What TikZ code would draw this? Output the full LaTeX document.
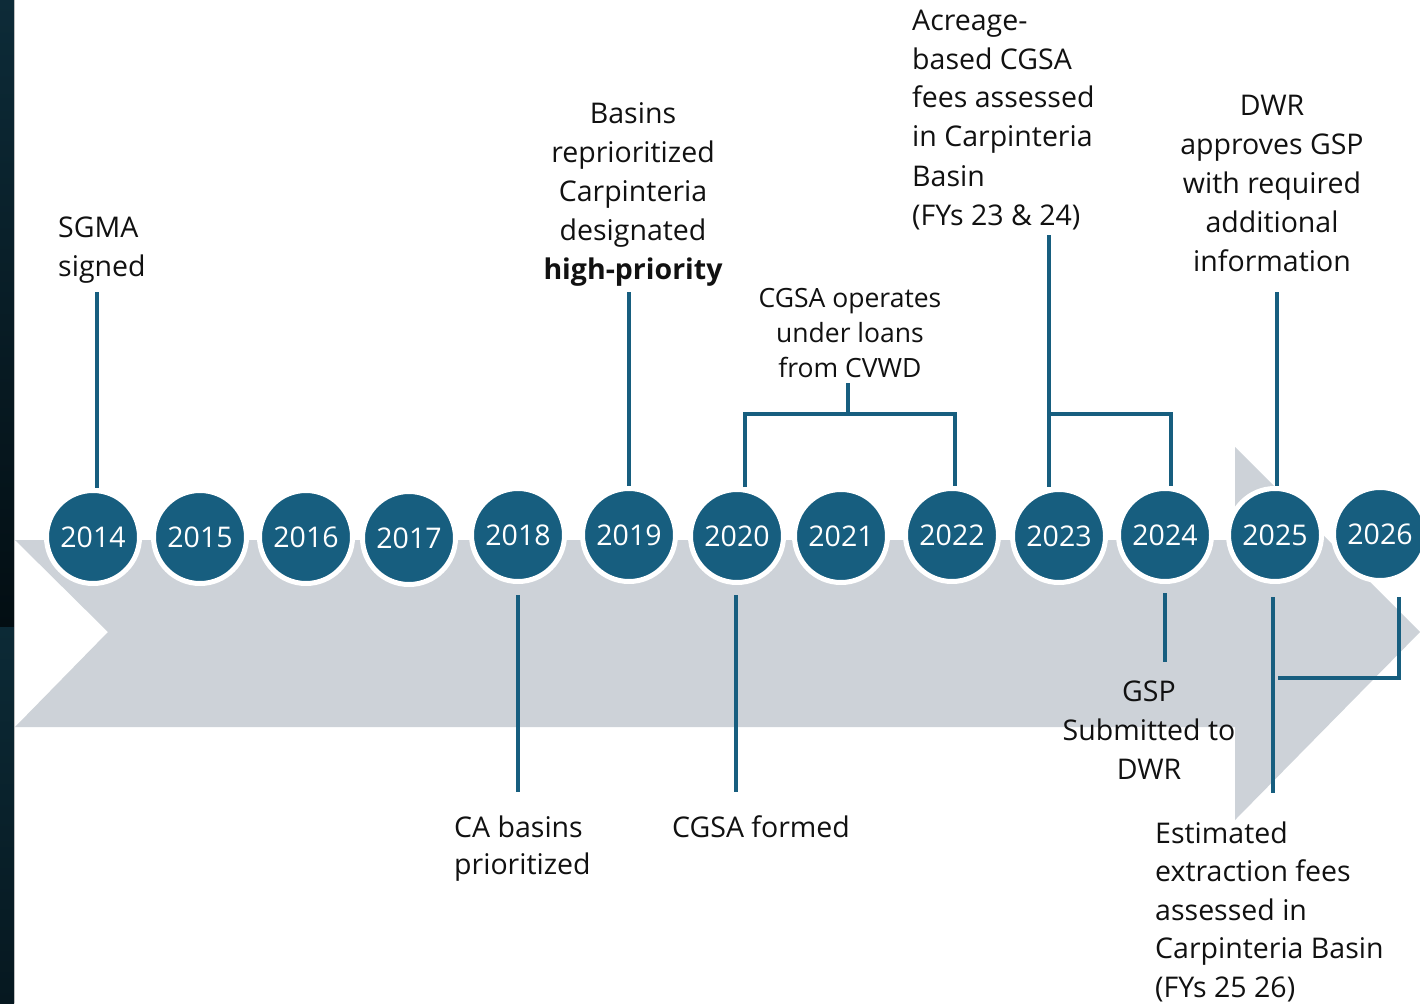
\documentclass[tikz,border=0pt]{standalone}
\usepackage{fontspec}
\setmainfont{Open Sans}
\definecolor{teal1}{HTML}{175E7F}
\definecolor{arrowgray}{HTML}{CDD2D8}
\definecolor{stripA}{HTML}{0D2B38}
\definecolor{stripB}{HTML}{030E13}
\definecolor{stripC}{HTML}{0C2A36}
\definecolor{stripD}{HTML}{061820}
\definecolor{txt}{HTML}{111111}
\tikzset{
  yr/.style={circle, fill=teal1, draw=white, line width=5pt, minimum size=93pt, inner sep=0pt,
    text=white, font=\fontsize{28.5}{34}\selectfont},
  lbl/.style={inner sep=0pt, text=txt, font=\fontsize{28.5}{39}\selectfont},
  lblsmall/.style={inner sep=0pt, text=txt, font=\fontsize{26.5}{35}\selectfont},
  conn/.style={draw=teal1, line width=4pt}
}
\begin{document}
\begin{tikzpicture}[x=1pt,y=-1pt]
\useasboundingbox (0,0) rectangle (1420,1003);
\clip (0,0) rectangle (1420,1003);
\fill[white] (0,0) rectangle (1420,1003);
% dark strip at left
\shade[top color=stripA, bottom color=stripB] (0,0) rectangle (14,627);
\shade[top color=stripC, bottom color=stripD] (0,627) rectangle (14,1003);
\draw[gray!50, line width=1pt] (14.5,0) -- (14.5,1003);
% big arrow
\fill[arrowgray] (15,540) -- (1235,540) -- (1235,447) -- (1420,632) -- (1235,820) -- (1235,727) -- (15,727) -- (108,632) -- cycle;
% year circles
\node[yr] (y2014) at (93,537) {2014};
\node[yr] (y2015) at (200,537) {2015};
\node[yr] (y2016) at (306,537) {2016};
\node[yr] (y2017) at (409,538) {2017};
\node[yr] (y2018) at (518,535) {2018};
\node[yr] (y2019) at (629,535) {2019};
\node[yr] (y2020) at (737,536) {2020};
\node[yr] (y2021) at (841,536) {2021};
\node[yr] (y2022) at (952,535) {2022};
\node[yr] (y2023) at (1059,536) {2023};
\node[yr] (y2024) at (1165,535) {2024};
\node[yr] (y2025) at (1275,535) {2025};
\node[yr] (y2026) at (1380,534) {2026};
% labels above (base anchor = baseline of last line)
\node[lbl, align=left, anchor=base west] (sgma) at (58,276) {SGMA\\signed};
\node[lbl, align=center, anchor=base] (basins) at (633,279) {Basins\\reprioritized\\Carpinteria\\designated\\\textbf{high-priority}};
\node[lblsmall, align=center, anchor=base] (loans) at (850,377) {CGSA operates\\under loans\\from CVWD};
\node[lbl, align=left, anchor=base west] (acre) at (912,225) {Acreage-\\based CGSA\\fees assessed\\in Carpinteria\\Basin\\(FYs 23 \& 24)};
\node[lbl, align=center, anchor=base] (dwr) at (1272,271) {DWR\\approves GSP\\with required\\additional\\information};
% labels below
\node[lbl, align=left, anchor=base west, font=\fontsize{28.5}{37}\selectfont] (ca) at (454,874) {CA basins\\prioritized};
\node[lbl, anchor=base west] (formed) at (672,837) {CGSA formed};
\node[lbl, align=center, anchor=base] (gsp) at (1149,779) {GSP\\Submitted to\\DWR};
\node[lbl, align=left, anchor=base west, font=\fontsize{28.5}{38.5}\selectfont] (est) at (1155,997) {Estimated\\extraction fees\\assessed in\\Carpinteria Basin\\(FYs 25 26)};
% connector coordinates
\coordinate (c2014) at (97,292);
\coordinate (c2019) at (629,292);
\coordinate (cl0) at (848,383);
\coordinate (cl1) at (848,414);
\coordinate (cl2) at (745,414);
\coordinate (cl3) at (955,414);
\coordinate (ca0) at (1049,235);
\coordinate (ca1) at (1049,414);
\coordinate (ca2) at (1171,414);
\coordinate (cd0) at (1277,292);
\coordinate (t2018) at (518,595);
\coordinate (b2018) at (518,792);
\coordinate (t2020) at (736,595);
\coordinate (b2020) at (736,792);
\coordinate (t2024) at (1165,593);
\coordinate (b2024) at (1165,662);
\coordinate (t2025) at (1273,597);
\coordinate (b2025) at (1273,793);
\coordinate (t2026) at (1399,597);
\coordinate (b2026) at (1399,678);
\coordinate (b2026e) at (1278,678);
% connectors above
\draw[conn] (c2014) -- (c2014 |- y2014.north);
\draw[conn] (c2019) -- (c2019 |- y2019.north);
\draw[conn] (cl0) -- (cl1);
\draw[conn] (cl2 |- y2020.north) -- (cl2) -- (cl3) -- (cl3 |- y2022.north);
\draw[conn] (ca0) -- (ca0 |- y2023.north);
\draw[conn] (ca1) -- (ca2) -- (ca2 |- y2024.north);
\draw[conn] (cd0) -- (cd0 |- y2025.north);
% connectors below
\draw[conn] (t2018) -- (b2018);
\draw[conn] (t2020) -- (b2020);
\draw[conn] (t2024) -- (b2024);
\draw[conn] (t2025) -- (b2025);
\draw[conn] (t2026) -- (b2026) -- (b2026e);
\end{tikzpicture}
\end{document}
